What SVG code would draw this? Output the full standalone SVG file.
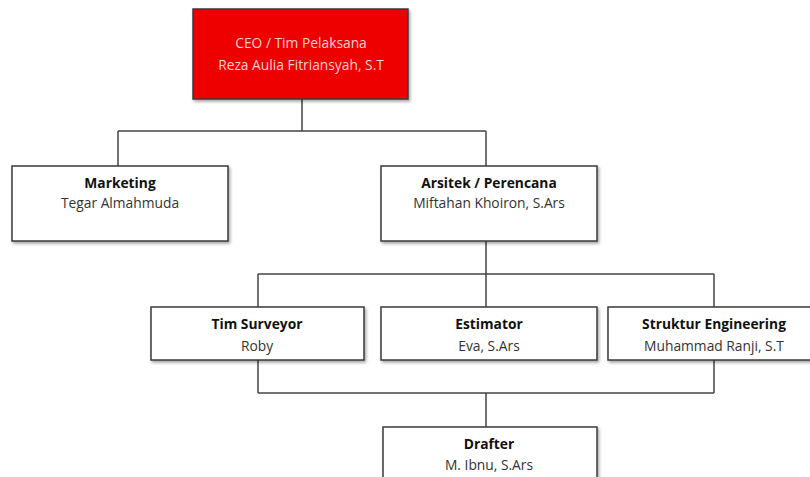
<svg xmlns="http://www.w3.org/2000/svg" width="810" height="477" viewBox="0 0 810 477">
<defs>
<filter id="sh" x="-10%" y="-10%" width="130%" height="130%">
<feDropShadow dx="1.5" dy="2" stdDeviation="1.5" flood-color="#000" flood-opacity="0.35"/>
</filter>
<style>
.box{fill:#fff;stroke:#3a3a3a;stroke-width:1.5;filter:url(#sh)}
.red{fill:#ee0000;stroke:#3a3a3a;stroke-width:1.5;filter:url(#sh)}
.t{font-family:"Open Sans","Liberation Sans",sans-serif;font-size:13.8px;text-anchor:middle;fill:#333}
.b{font-weight:bold;fill:#111}
.w{fill:#ffd0d0}
.c{fill:none;stroke:#444;stroke-width:1.5}
</style>
</defs>
<rect width="810" height="477" fill="#fff"/>
<g id="connectors">
<path class="c" d="M302 99V131M118 131H486M118 131V166M486 131V166"/>
<path class="c" d="M486 241V274M258 274H714M258 274V307M486 274V307M714 274V307"/>
<path class="c" d="M258 360V393M714 360V393M258 393H714M486 393V427"/>
</g>
<g id="ceo">
<rect class="red" x="193" y="9" width="215" height="90"/>
<text class="t w" x="301" y="48">CEO / Tim Pelaksana</text>
<text class="t w" x="301" y="70">Reza Aulia Fitriansyah, S.T</text>
</g>
<g id="marketing">
<rect class="box" x="12" y="166" width="216" height="75"/>
<text class="t b" x="120" y="188">Marketing</text>
<text class="t" x="120" y="208">Tegar Almahmuda</text>
</g>
<g id="arsitek">
<rect class="box" x="381" y="166" width="216" height="75"/>
<text class="t b" x="489" y="188">Arsitek / Perencana</text>
<text class="t" x="489" y="208">Miftahan Khoiron, S.Ars</text>
</g>
<g id="surveyor">
<rect class="box" x="151" y="307" width="213" height="53"/>
<text class="t b" x="257" y="329">Tim Surveyor</text>
<text class="t" x="257" y="351">Roby</text>
</g>
<g id="estimator">
<rect class="box" x="381" y="307" width="216" height="53"/>
<text class="t b" x="489" y="329">Estimator</text>
<text class="t" x="489" y="351">Eva, S.Ars</text>
</g>
<g id="struktur">
<rect class="box" x="608" y="307" width="213" height="53"/>
<text class="t b" x="714" y="329">Struktur Engineering</text>
<text class="t" x="714" y="351">Muhammad Ranji, S.T</text>
</g>
<g id="drafter">
<rect class="box" x="383" y="427" width="214" height="70"/>
<text class="t b" x="489" y="449">Drafter</text>
<text class="t" x="489" y="470">M. Ibnu, S.Ars</text>
</g>
</svg>
